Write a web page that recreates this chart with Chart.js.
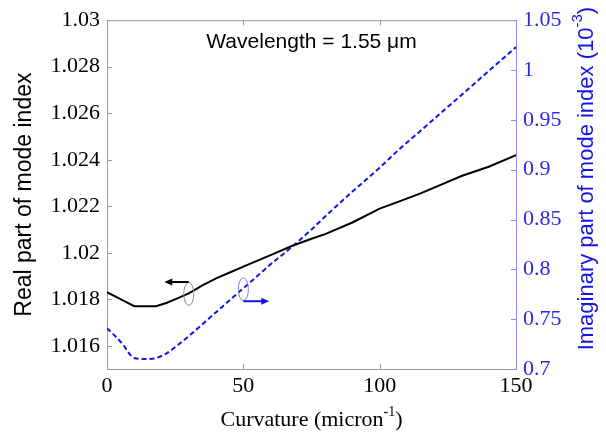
<!DOCTYPE html>
<html>
<head>
<meta charset="utf-8">
<script src="https://cdn.jsdelivr.net/npm/chart.js@4/dist/chart.umd.min.js"></script>
<style>
  html, body { margin: 0; padding: 0; background: #fff; }
</style>
</head>
<body>
<canvas id="chart" width="606" height="434"></canvas>
<script>
// curvature (micron^-1)
const curvature = [0, 3, 6, 8, 10, 14, 18, 22, 26, 30, 35, 40, 45, 50, 55, 60, 68, 75, 80, 90, 100, 107, 115, 120, 130, 140, 150];
// real part of mode index (left axis)
const realIndex = [1.0183, 1.01812, 1.01794, 1.01782, 1.0177, 1.0177, 1.0177, 1.01785, 1.01805, 1.01825, 1.0186, 1.0189, 1.01915, 1.0194, 1.01965, 1.0199, 1.0203, 1.0206, 1.0208, 1.0213, 1.0219, 1.0222, 1.02255, 1.0228, 1.0233, 1.0237, 1.0242];
// imaginary part of mode index, 10^-3 (right axis)
const imagIndex = [0.741, 0.733, 0.724, 0.716, 0.711, 0.710, 0.711, 0.716, 0.724, 0.733, 0.745, 0.757, 0.769, 0.781, 0.793, 0.805, 0.823, 0.840, 0.853, 0.878, 0.902, 0.920, 0.939, 0.951, 0.975, 0.999, 1.023];

const xTicks = [0, 50, 100, 150];
const realTicks = [1.016, 1.018, 1.02, 1.022, 1.024, 1.026, 1.028, 1.03];
const imagTicks = [0.7, 0.75, 0.8, 0.85, 0.9, 0.95, 1, 1.05];

const COLORS = { black: '#000000', blue: '#1414e6', axis: '#9a9a9a', axisBlue: '#8c8cff', tickBlue: '#2a2ae0' };
const SERIF = "'Liberation Serif', 'Times New Roman', serif";
const SANS = "'Liberation Sans', Arial, sans-serif";

const setTicks = list => scale => { scale.ticks = list.map(v => ({ value: v })); };

// draws text pieces (some superscript) centred at (0,0) of the current transform
function drawPieces(ctx, pieces) {
    let total = 0;
    pieces.forEach(p => { ctx.font = p.font; p.w = ctx.measureText(p.text).width; total += p.w; });
    let x = -total / 2;
    ctx.textAlign = 'left';
    ctx.textBaseline = 'middle';
    pieces.forEach(p => { ctx.font = p.font; ctx.fillText(p.text, x, p.dy || 0); x += p.w; });
}

const extras = {
    id: 'extras',
    afterDraw(chart) {
        const { ctx, chartArea: a, scales } = chart;
        const sx = scales.x, sl = scales.y, sr = scales.y2;
        const TL = 5;
        ctx.save();

        // top border
        ctx.strokeStyle = COLORS.axis;
        ctx.lineWidth = 1;
        ctx.beginPath();
        ctx.moveTo(a.left, a.top + 0.5); ctx.lineTo(a.right, a.top + 0.5);
        ctx.stroke();

        // inward tick marks
        ctx.beginPath();
        xTicks.slice(1, -1).forEach(v => {
            const px = Math.round(sx.getPixelForValue(v)) + 0.5;
            ctx.moveTo(px, a.bottom); ctx.lineTo(px, a.bottom - TL);
            ctx.moveTo(px, a.top); ctx.lineTo(px, a.top + TL);
        });
        realTicks.forEach(v => {
            const py = Math.round(sl.getPixelForValue(v)) + 0.5;
            ctx.moveTo(a.left, py); ctx.lineTo(a.left + TL, py);
        });
        ctx.stroke();
        ctx.strokeStyle = COLORS.axisBlue;
        ctx.beginPath();
        imagTicks.forEach(v => {
            const py = Math.round(sr.getPixelForValue(v)) + 0.5;
            ctx.moveTo(a.right, py); ctx.lineTo(a.right - TL, py);
        });
        ctx.stroke();

        // curve markers: ellipse + arrow pointing to the matching axis
        const arrow = (x0, x1, y, color) => {
            const dir = Math.sign(x1 - x0);
            ctx.strokeStyle = color; ctx.fillStyle = color; ctx.lineWidth = 2;
            ctx.beginPath(); ctx.moveTo(x0, y); ctx.lineTo(x1 - dir * 6, y); ctx.stroke();
            ctx.beginPath(); ctx.moveTo(x1, y); ctx.lineTo(x1 - dir * 8, y - 3.5); ctx.lineTo(x1 - dir * 8, y + 3.5); ctx.closePath(); ctx.fill();
        };
        const ellipse = (x, y, color) => {
            ctx.strokeStyle = color; ctx.lineWidth = 1;
            ctx.beginPath(); ctx.ellipse(x, y, 5, 11.5, 0, 0, Math.PI * 2); ctx.stroke();
        };
        ellipse(sx.getPixelForValue(30), sl.getPixelForValue(1.01823), '#8a8a8a');
        arrow(sx.getPixelForValue(30), sx.getPixelForValue(21), sl.getPixelForValue(1.01874), COLORS.black);
        ellipse(sx.getPixelForValue(50), sr.getPixelForValue(0.780), '#7d7de8');
        arrow(sx.getPixelForValue(50), sx.getPixelForValue(59.5), sr.getPixelForValue(0.768), COLORS.blue);

        // wavelength note
        ctx.fillStyle = '#000';
        ctx.font = `21px ${SANS}`;
        ctx.textAlign = 'center';
        ctx.textBaseline = 'middle';
        ctx.fillText('Wavelength = 1.55 \u03bcm', (a.left + a.right) / 2, a.top + 22);

        // x axis title
        ctx.save();
        ctx.translate((a.left + a.right) / 2, 420);
        ctx.fillStyle = '#000';
        drawPieces(ctx, [
            { text: 'Curvature (micron', font: `22px ${SERIF}` },
            { text: '-1', font: `14px ${SERIF}`, dy: -8 },
            { text: ')', font: `22px ${SERIF}` }
        ]);
        ctx.restore();

        // right axis title, reading bottom to top
        ctx.save();
        ctx.translate(587, (a.top + a.bottom) / 2 - 16);
        ctx.rotate(-Math.PI / 2);
        ctx.fillStyle = COLORS.blue;
        drawPieces(ctx, [
            { text: 'Imaginary part of mode index (10', font: `22px ${SANS}` },
            { text: '-3', font: `15px ${SANS}`, dy: -9 },
            { text: ')', font: `22px ${SANS}` }
        ]);
        ctx.restore();

        ctx.restore();
    }
};

new Chart(document.getElementById('chart'), {
    type: 'line',
    data: {
        datasets: [
            {
                label: 'Real',
                data: curvature.map((x, i) => ({ x, y: realIndex[i] })),
                yAxisID: 'y',
                borderColor: COLORS.black,
                borderWidth: 2,
                pointRadius: 0,
                tension: 0
            },
            {
                label: 'Imaginary',
                data: curvature.map((x, i) => ({ x, y: imagIndex[i] })),
                yAxisID: 'y2',
                borderColor: COLORS.blue,
                borderWidth: 2,
                borderDash: [5, 3],
                pointRadius: 0,
                cubicInterpolationMode: 'monotone'
            }
        ]
    },
    options: {
        responsive: false,
        animation: false,
        devicePixelRatio: 1,
        layout: { padding: { top: 16, left: 0, right: 0, bottom: 0 } },
        plugins: { legend: { display: false }, tooltip: { enabled: false } },
        scales: {
            x: {
                type: 'linear', min: 0, max: 150,
                afterBuildTicks: setTicks(xTicks),
                afterFit: s => { s.height = 65; },
                grid: { drawOnChartArea: false, drawTicks: false },
                border: { color: COLORS.axis },
                ticks: { color: '#000', font: { family: SERIF, size: 22 }, padding: 4, callback: v => String(v) }
            },
            y: {
                position: 'left', min: 1.015, max: 1.03,
                afterBuildTicks: setTicks(realTicks),
                afterFit: s => { s.width = 107; },
                grid: { drawOnChartArea: false, drawTicks: false },
                border: { color: COLORS.axis },
                ticks: { color: '#000', font: { family: SERIF, size: 22 }, padding: 7, callback: v => String(v) },
                title: { display: true, text: 'Real part of mode index', color: '#000', font: { family: SANS, size: 23 }, padding: { top: 11, bottom: 0 } }
            },
            y2: {
                position: 'right', min: 0.7, max: 1.05,
                afterBuildTicks: setTicks(imagTicks),
                afterFit: s => { s.width = 90; },
                grid: { drawOnChartArea: false, drawTicks: false },
                border: { color: COLORS.axisBlue },
                ticks: { color: COLORS.tickBlue, font: { family: SERIF, size: 22 }, padding: 7, callback: v => String(v) }
            }
        }
    },
    plugins: [extras]
});
</script>
</body>
</html>
